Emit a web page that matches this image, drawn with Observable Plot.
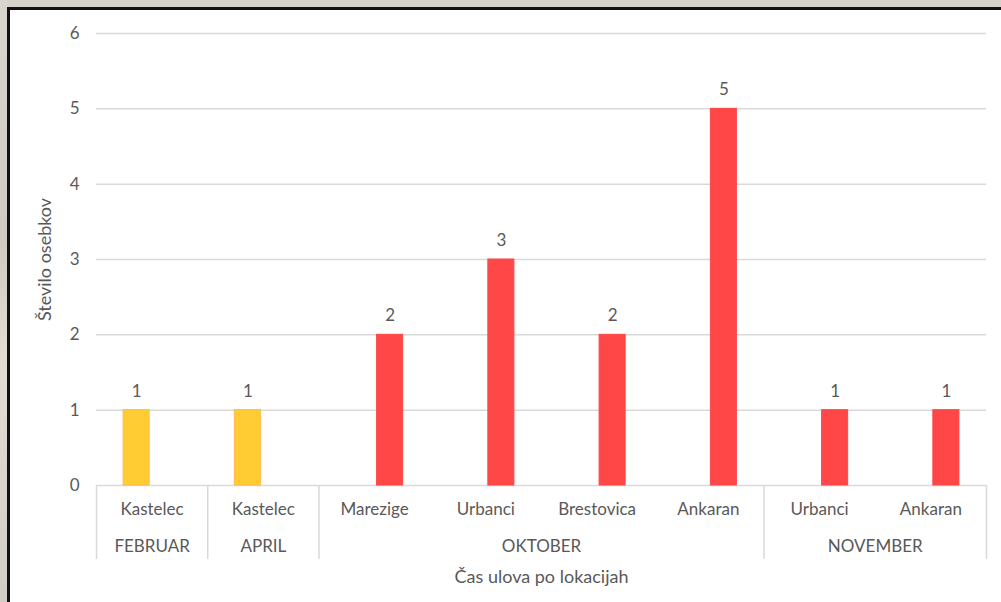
<!DOCTYPE html>
<html><head><meta charset="utf-8">
<script src="https://cdn.jsdelivr.net/npm/d3@7"></script>
<script src="https://cdn.jsdelivr.net/npm/@observablehq/plot@0.6"></script>
<style>
html,body{margin:0;padding:0;width:1001px;height:602px;overflow:hidden;background:#d5d2cc;}
#bg{position:absolute;left:0;top:0;width:8px;height:602px;background:linear-gradient(#d8d5cf,#cfcac2 40%,#e2ddd4 60%,#d0ccc6);}
#frame{position:absolute;left:7px;top:7px;right:0;bottom:0;border-left:3px solid #111;border-top:3px solid #111;background:#fff;}
#chart{position:absolute;left:0;top:0;}
</style></head><body><div id="bg"></div><div id="frame"></div><div id="chart"></div>
<script>
const locations = ["Kastelec","Kastelec","Marezige","Urbanci","Brestovica","Ankaran","Urbanci","Ankaran"];
const months = ["FEBRUAR","APRIL","OKTOBER","NOVEMBER"];
const monthOfSlot = [0,1,2,2,2,2,3,3];
const seriesNames = ["pomlad","jesen"];
const seriesOfSlot = [0,0,1,1,1,1,1,1];
const counts = [1,1,2,3,2,5,1,1];
const yTicks = [0,1,2,3,4,5,6];
const yLabel = "Število osebkov";
const xLabel = "Čas ulova po lokacijah";
const seriesColors = ["#FFCC33","#FF4747"];
const seriesStrokes = ["#FFB84D","#FF4747"];

const slots = counts.map((v,i)=>({i, location: locations[i], month: months[monthOfSlot[i]], series: seriesOfSlot[i], value: v}));
const groups = months.map((m,k)=>{
  const idx = monthOfSlot.map((g,i)=>g===k?i:-1).filter(i=>i>=0);
  return {month:m, start: idx[0], end: idx[idx.length-1]+1};
});
const bounds = [0, ...groups.map(g=>g.end)];
const offsets = [-15.5, 15.5];
const gray = "#595959";
const fs = 17;

const marks = [
  Plot.ruleY(yTicks, {stroke:"#d9d9d9", strokeWidth:1.5}),
  ...seriesNames.map((s,k)=>Plot.rectY(slots.filter(d=>d.series===k), {
    x1:"i", x2:d=>d.i+1, y:"value", fill:seriesColors[k], stroke:seriesStrokes[k], strokeWidth:1,
    insetLeft:42.6, insetRight:42.6, dx:offsets[k]
  })),
  ...seriesNames.map((s,k)=>Plot.text(slots.filter(d=>d.series===k), {
    x:d=>d.i+0.5, y:"value", text:d=>String(d.value), dx:offsets[k], dy:-19, fill:gray, fontSize:fs
  })),
  Plot.ruleX(bounds, {x:d=>d, y1:0, y2:0, insetBottom:-74, stroke:"#d9d9d9", strokeWidth:1.5}),
  Plot.text(slots, {x:d=>d.i+0.5, text:"location", frameAnchor:"bottom", lineAnchor:"middle", dy:24, fill:gray, fontSize:fs}),
  Plot.text(groups, {x:d=>(d.start+d.end)/2, text:"month", frameAnchor:"bottom", lineAnchor:"middle", dy:61, fill:gray, fontSize:fs}),
  Plot.text([xLabel], {text:d=>d, frameAnchor:"bottom", lineAnchor:"middle", dy:92, fill:gray, fontSize:18}),
  Plot.text([yLabel], {text:d=>d, frameAnchor:"left", textAnchor:"middle", lineAnchor:"middle", rotate:-90, dx:-51, fill:gray, fontSize:18}),
  Plot.axisY(yTicks, {tickSize:0, tickPadding:17, fill:gray, fontSize:fs, label:null, tickFormat:d=>String(d)})
];

const chart = Plot.plot({
  width:1001, height:602,
  marginLeft:96, marginRight:15, marginTop:33, marginBottom:117,
  x:{domain:[0,8], axis:null},
  y:{domain:[0,6]},
  style:{fontFamily:"Lato, 'Open Sans', sans-serif", fontSize:"17px", color:gray, background:"transparent", overflow:"visible"},
  marks
});
document.getElementById("chart").appendChild(chart);
</script></body></html>
